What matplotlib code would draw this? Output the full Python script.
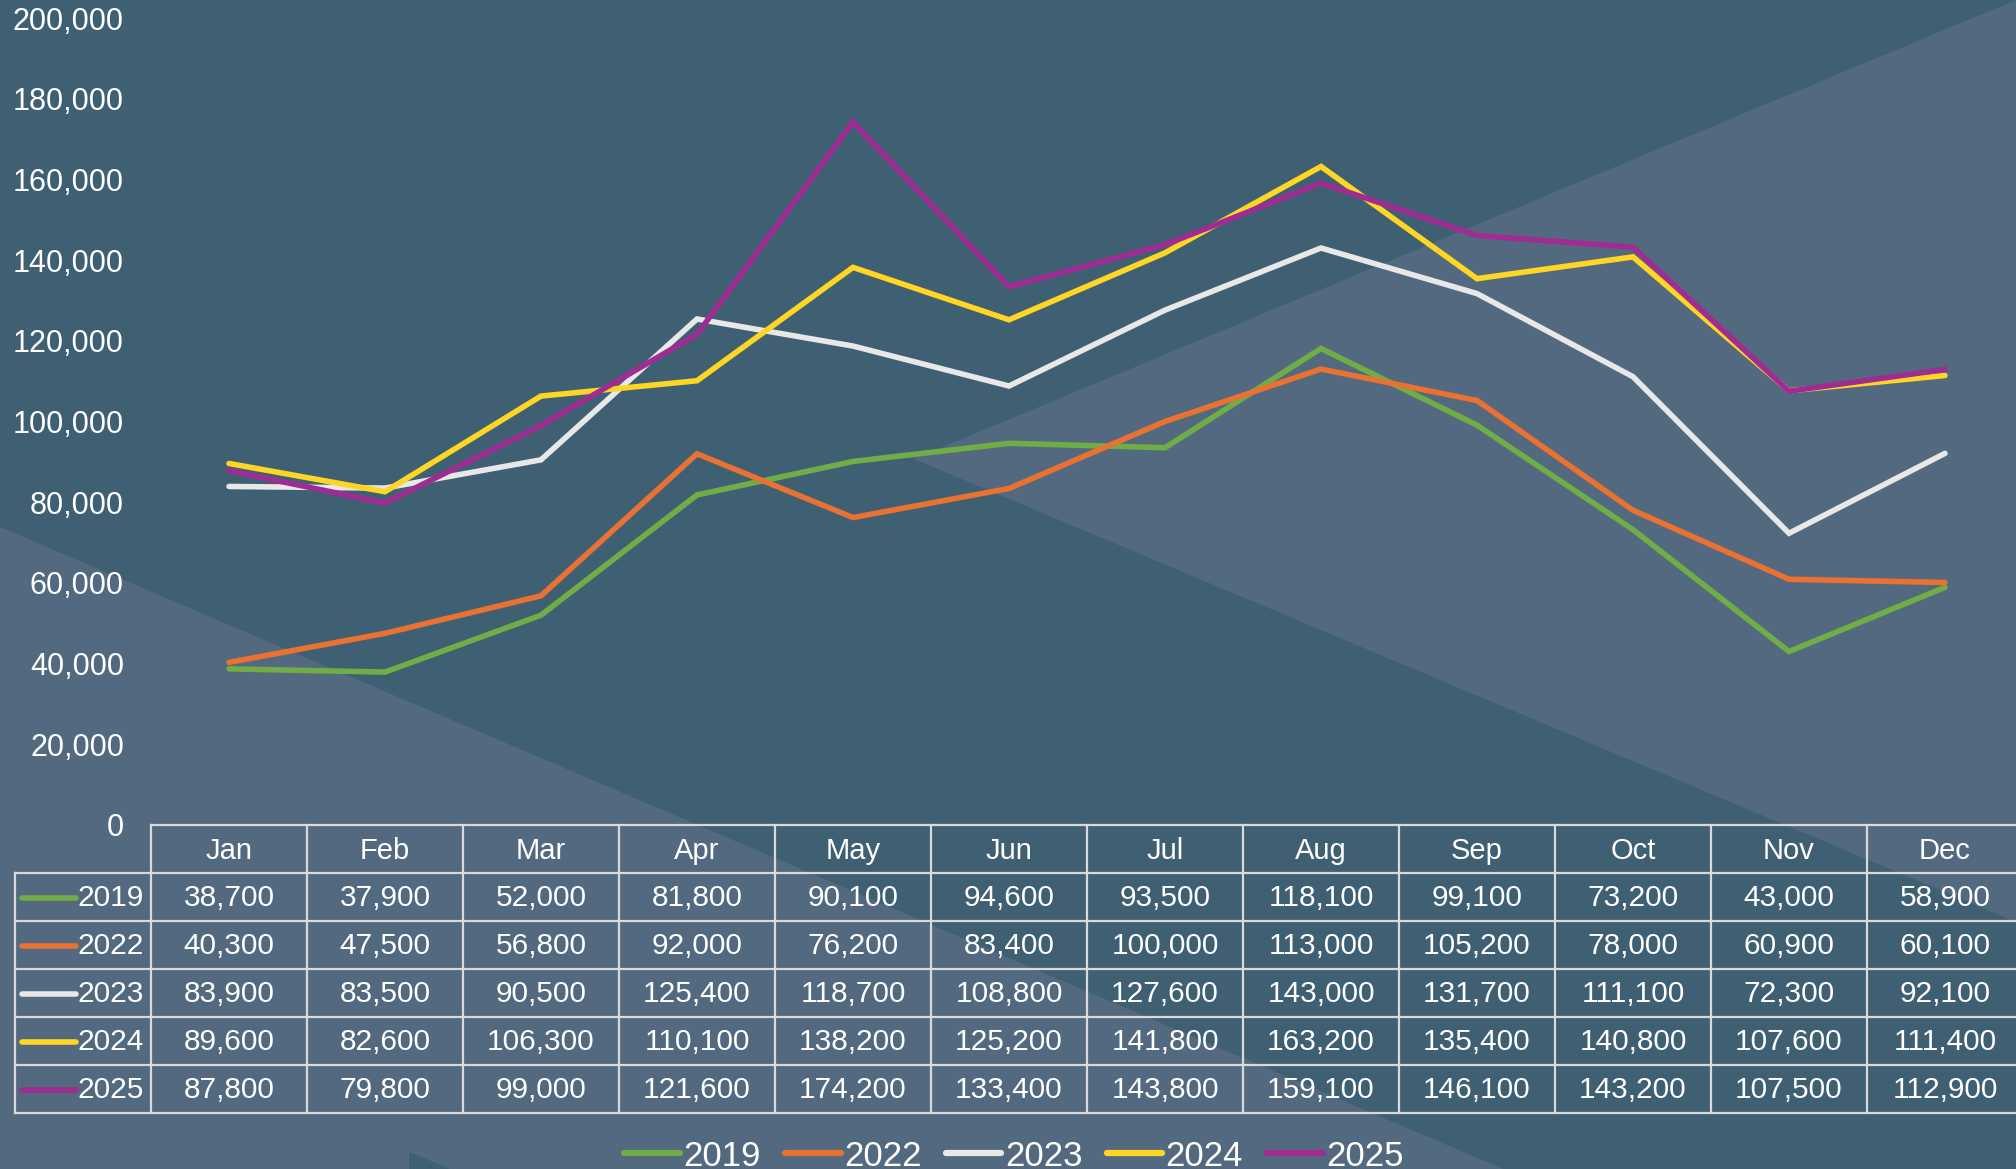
import matplotlib.pyplot as plt
from matplotlib.patches import Polygon
from matplotlib.lines import Line2D
from matplotlib.ticker import FuncFormatter

plt.rcParams['font.family'] = ['Liberation Sans', 'DejaVu Sans']

# data
months = ['Jan', 'Feb', 'Mar', 'Apr', 'May', 'Jun', 'Jul', 'Aug', 'Sep', 'Oct', 'Nov', 'Dec']
years = ['2019', '2022', '2023', '2024', '2025']
v2019 = [38700, 37900, 52000, 81800, 90100, 94600, 93500, 118100, 99100, 73200, 43000, 58900]
v2022 = [40300, 47500, 56800, 92000, 76200, 83400, 100000, 113000, 105200, 78000, 60900, 60100]
v2023 = [83900, 83500, 90500, 125400, 118700, 108800, 127600, 143000, 131700, 111100, 72300, 92100]
v2024 = [89600, 82600, 106300, 110100, 138200, 125200, 141800, 163200, 135400, 140800, 107600, 111400]
v2025 = [87800, 79800, 99000, 121600, 174200, 133400, 143800, 159100, 146100, 143200, 107500, 112900]
series = [v2019, v2022, v2023, v2024, v2025]
colors = ['#70AD47', '#E97132', '#E8E8E8', '#FFD624', '#A02B93']

# layout (pixels)
W, H = 2016, 1169
dark = '#3F6073'
light = '#53697F'
tab_left, col_w, row_h, tab_top, lab_left = 151, 156, 48, 825, 15
plot_top = 18

fig = plt.figure(figsize=(W / 100, H / 100), dpi=100)
fig.patch.set_facecolor(dark)

# background shapes
bg = fig.add_axes([0, 0, 1, 1], zorder=0)
bg.set_xlim(0, W)
bg.set_ylim(H, 0)
bg.axis('off')
bg.add_patch(Polygon([(0, 527), (1503, H), (0, H)], fc=light, ec='none'))
bg.add_patch(Polygon([(409, 1152), (409, H), (450, H)], fc=dark, ec='none'))
bg.add_patch(Polygon([(914, 459), (W, 0), (W, 922)], fc=light, ec='none'))

# line chart
ax = fig.add_axes([tab_left / W, 1 - tab_top / H, 12 * col_w / W, (tab_top - plot_top) / H], zorder=1)
ax.patch.set_alpha(0)
x = list(range(len(months)))
for yr, vals, c in zip(years, series, colors):
    ax.plot(x, vals, color=c, lw=4, solid_capstyle='round', solid_joinstyle='miter', label=yr)
ax.set_xlim(-0.5, 11.5)
ax.set_ylim(0, 200000)
ax.set_yticks(range(0, 200001, 20000))
ax.yaxis.set_major_formatter(FuncFormatter(lambda v, p: f'{int(v):,}'))
ax.tick_params(axis='y', length=0, pad=19.5, labelsize=22, labelcolor='white')
ax.set_xticks([])
for s in ax.spines.values():
    s.set_visible(False)

# data table
lc = '#D9D9D9'
tab_right = tab_left + 12 * col_w
tab_bottom = tab_top + (len(years) + 1) * row_h
bg.plot([tab_left, tab_right], [tab_top, tab_top], color=lc, lw=1.6)
for r in range(1, len(years) + 2):
    yy = tab_top + r * row_h
    bg.plot([lab_left, tab_right], [yy, yy], color=lc, lw=1.6)
for c in range(13):
    xx = tab_left + c * col_w
    bg.plot([xx, xx], [tab_top, tab_bottom], color=lc, lw=1.6)
bg.plot([lab_left, lab_left], [tab_top + row_h, tab_bottom], color=lc, lw=1.6)

for i, m in enumerate(months):
    bg.text(tab_left + (i + 0.5) * col_w, tab_top + row_h / 2 + 2, m, color='white',
            fontsize=21, ha='center', va='center')
for r, (yr, vals, c) in enumerate(zip(years, series, colors)):
    yc = tab_top + (r + 1.5) * row_h + 1
    bg.plot([22, 76], [yc, yc], color=c, lw=4, solid_capstyle='round')
    bg.text(tab_left - 7, yc, yr, color='white', fontsize=21.5, ha='right', va='center')
    for i, v in enumerate(vals):
        bg.text(tab_left + (i + 0.5) * col_w, yc, f'{v:,}', color='white',
                fontsize=21.5, ha='center', va='center')

# legend
handles = [Line2D([], [], color=c, lw=4.5, solid_capstyle='round') for c in colors]
fig.legend(handles, years, loc='center', bbox_to_anchor=(0.503, 1 - 1156 / H), ncol=5,
           frameon=False, fontsize=25, handlelength=1.6, handletextpad=0.1,
           columnspacing=0.7, labelcolor='white')

fig.savefig('out.png', dpi=100, facecolor=fig.get_facecolor())
